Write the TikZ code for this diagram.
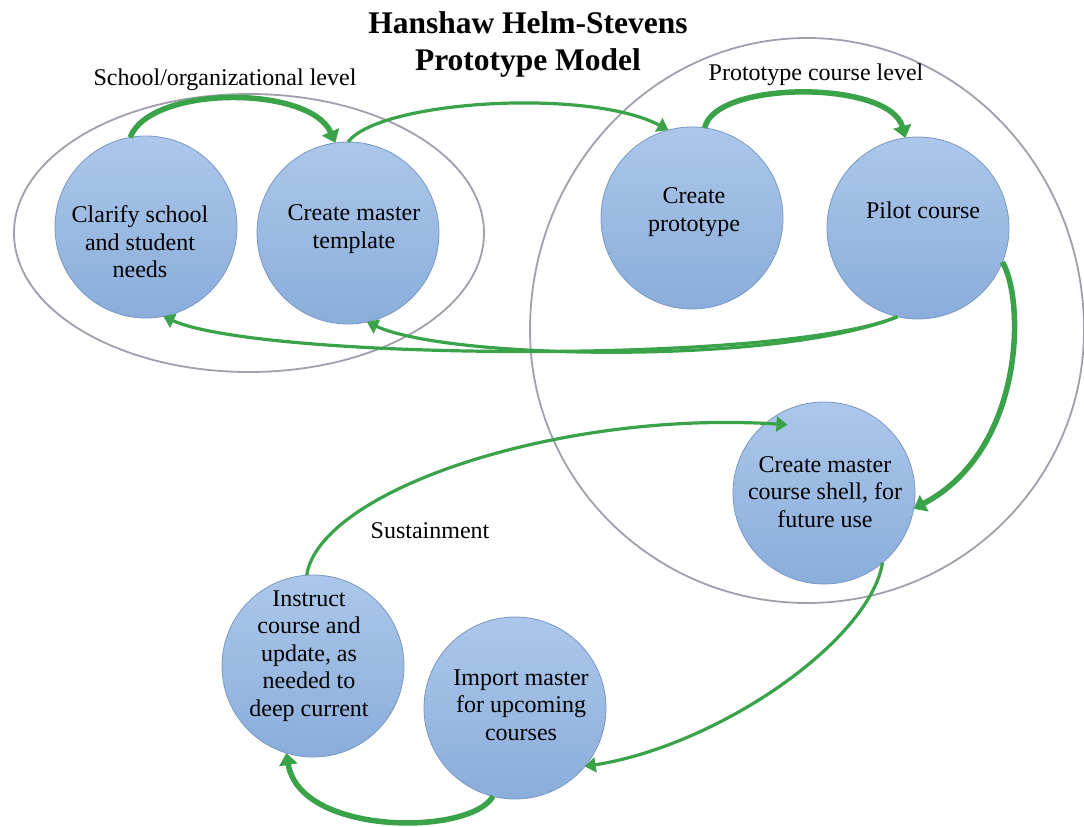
\documentclass[tikz,border=0pt]{standalone}
\usepackage{fontspec}
\setmainfont{Liberation Serif}
\usepackage{tikz}
\usetikzlibrary{arrows.meta}
\usepackage{xcolor}
\definecolor{cBubbleTop}{RGB}{172,199,234}
\definecolor{cBubbleBot}{RGB}{138,173,219}
\definecolor{cBubbleEdge}{RGB}{122,152,196}
\definecolor{cArrow}{RGB}{58,163,74}
\definecolor{cRing}{RGB}{160,160,172}
\tikzset{
  bubble/.style={circle, minimum size=182pt, inner sep=0pt, outer sep=0pt,
                 draw=cBubbleEdge, line width=0.8pt,
                 top color=cBubbleTop, bottom color=cBubbleBot},
  bubbletext/.style={align=center, inner sep=0pt,
                     font=\fontsize{24}{27.5}\selectfont},
  ringlabel/.style={inner sep=0pt, font=\fontsize{24}{28}\selectfont},
  ring/.style={draw=cRing, line width=1.8pt},
  flow/.style={draw=cArrow, line width=3.2pt,
               -{Triangle[length=11pt,width=15pt]}},
  boldflow/.style={draw=cArrow, line width=5.5pt,
                   -{Triangle[length=12pt,width=18pt]}}
}

\begin{document}
\begin{tikzpicture}[x=1pt, y=-1pt]
  \useasboundingbox (0,0) rectangle (1084,827);
  \fill[white] (0,0) rectangle (1084,827);

  \node[align=center, inner sep=0pt,
        font=\fontsize{31.5}{37}\selectfont\bfseries] (title) at (528,44)
    {Hanshaw Helm-Stevens\\Prototype Model};

  \draw[ring] (249,233) ellipse[x radius=235, y radius=139];
  \draw[ring] (530,330) arc[start angle=180, end angle=360, x radius=277, y radius=292]
                        arc[start angle=0, end angle=180, x radius=277, y radius=273] -- cycle;

  \node[ringlabel] (orglabel) at (225,80) {School/organizational level};
  \node[ringlabel] (protolabel) at (816,75) {Prototype course level};
  \node[ringlabel] (sustlabel) at (430,531) {Sustainment};

  \node[bubble] (clarify) at (146,227) {};
  \node[bubble] (template) at (348,233) {};
  \node[bubble] (proto) at (692,218) {};
  \node[bubble] (pilot) at (918,228) {};
  \node[bubble] (shell) at (824,493) {};
  \node[bubble] (instruct) at (313,666) {};
  \node[bubble] (import) at (515,708) {};

  \node[bubbletext] (clarifytext) at (140,242) {Clarify school\\and student\\needs};
  \node[bubbletext] (templatetext) at (354,229) {Create master\\template};
  \node[bubbletext] (prototext) at (694,212) {Create\\prototype};
  \node[bubbletext] (pilottext) at (923,210) {Pilot course};
  \node[bubbletext] (shelltext) at (825,492) {Create master\\course shell, for\\future use};
  \node[bubbletext] (instructtext) at (309,656) {Instruct\\course and\\update, as\\needed to\\deep current};
  \node[bubbletext] (importtext) at (521,705) {Import master\\for upcoming\\courses};

  \draw[boldflow] (clarify.100) .. controls (150,85) and (310,85) .. (template.98);
  \draw[flow] (template.90) .. controls (380,100) and (590,88) .. (proto.105);
  \draw[boldflow] (proto.82) .. controls (715,80) and (890,80) .. (pilot.98);
  \draw[boldflow] (pilot.-22) .. controls (1025,300) and (1025,450) .. (shell.-10);
  \draw[flow] (pilot.-103) .. controls (780,365) and (260,360) .. (clarify.-79);
  \draw[flow] (pilot.-103) .. controls (780,365) and (450,360) .. (template.-78);
  \draw[flow, shorten >=-22pt] (instruct.94) .. controls (320,490) and (560,410) .. (shell.130);
  \draw[flow] (shell.-50) .. controls (870,640) and (720,745) .. (import.-40);
  \draw[boldflow] (import.-104) .. controls (470,836) and (300,836) .. (instruct.-107);
\end{tikzpicture}
\end{document}
